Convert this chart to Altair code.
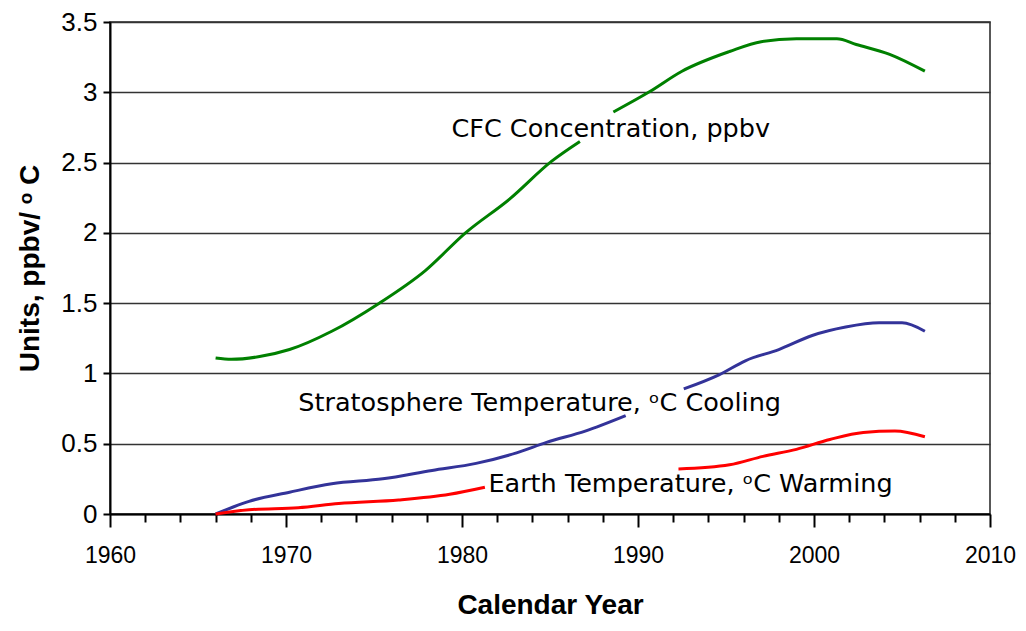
import altair as alt
import pandas as pd

# CFC concentration (ppbv); segment break where the label covers the line
cfc_years = [1966.0, 1966.9, 1968.5, 1970.2, 1972.6, 1975.3, 1977.9, 1980.2, 1982.7, 1985.1, 1986.7,
             1988.6, 1990.6, 1992.5, 1995.2, 1997.0, 1999.0, 2001.3, 2002.4, 2004.3, 2006.3]
cfc_values = [1.11, 1.10, 1.12, 1.17, 1.30, 1.50, 1.73, 2.00, 2.24, 2.51, 2.65,
              2.86, 3.00, 3.15, 3.29, 3.36, 3.38, 3.38, 3.34, 3.27, 3.15]
cfc_seg = [0] * 11 + [1] * 10

# Stratosphere temperature, cooling (degC)
strat_years = [1966.0, 1967.0, 1967.9, 1970.2, 1972.6, 1975.5, 1978.3, 1980.8, 1983.1, 1984.8, 1987.0, 1989.3,
               1992.6, 1994.6, 1996.1, 1998.0, 1999.9, 2001.8, 2003.7, 2005.0, 2006.3]
strat_values = [0.0, 0.05, 0.09, 0.155, 0.215, 0.25, 0.31, 0.36, 0.435, 0.51, 0.59, 0.70,
                0.89, 0.99, 1.09, 1.17, 1.27, 1.33, 1.36, 1.36, 1.30]
strat_seg = [0] * 12 + [1] * 9

# Earth temperature, warming (degC)
earth_years = [1966.0, 1967.9, 1970.7, 1973.0, 1976.4, 1979.3, 1981.3,
               1992.3, 1995.2, 1997.1, 1999.0, 2000.9, 2002.8, 2004.6, 2006.3]
earth_values = [0.0, 0.03, 0.045, 0.075, 0.10, 0.14, 0.19,
                0.32, 0.35, 0.41, 0.46, 0.53, 0.58, 0.59, 0.55]
earth_seg = [0] * 7 + [1] * 8

series_names = ["CFC", "Stratosphere", "Earth"]
series_colors = ["#008000", "#333399", "#ff0000"]

label_texts = ["CFC Concentration, ppbv",
               "Stratosphere Temperature, \u1d52C Cooling",
               "Earth Temperature, \u1d52C Warming"]
label_x = [1979.4, 1970.7, 1981.5]
label_y = [2.74, 0.79, 0.21]

y_ticks = [0, 0.5, 1, 1.5, 2, 2.5, 3, 3.5]
x_ticks = list(range(1960, 2011, 2))

rows = []
for name, yrs, vals, segs in [("CFC", cfc_years, cfc_values, cfc_seg),
                              ("Stratosphere", strat_years, strat_values, strat_seg),
                              ("Earth", earth_years, earth_values, earth_seg)]:
    for yr, v, s in zip(yrs, vals, segs):
        rows.append({"series": name, "year": yr, "value": v, "seg": f"{name}-{s}"})
df = pd.DataFrame(rows)

labels_df = pd.DataFrame({"text": label_texts, "year": label_x, "value": label_y})

x_scale = alt.Scale(domain=[1960, 2010], nice=False, zero=False)
y_scale = alt.Scale(domain=[0, 3.5], nice=False)

x_axis = alt.Axis(
    values=x_ticks,
    labelExpr="datum.value % 10 == 0 ? format(datum.value, 'd') : ''",
    labelOverlap=False,
    labelFlush=False,
    tickSize={"condition": {"test": "datum.value % 10 == 0", "value": 13}, "value": 8},
    tickWidth=2,
    tickColor="black",
    domainColor="black",
    domainWidth=2,
    grid=False,
    labelFontSize=23,
    labelPadding=17,
    title="Calendar Year",
    titleFontSize=28,
    titleFontWeight="bold",
    titlePadding=24,
)

y_axis = alt.Axis(
    values=y_ticks,
    format="~g",
    labelOverlap=False,
    grid=True,
    gridColor="#333333",
    gridWidth=1.5,
    tickSize=7,
    tickWidth=2,
    tickColor="black",
    domainColor="black",
    domainWidth=2,
    labelFontSize=26,
    labelPadding=6,
    title="Units, ppbv/ \u1d52 C",
    titleFontSize=28,
    titleFontWeight="bold",
    titlePadding=16,
)

lines = alt.Chart(df).mark_line(strokeWidth=3, interpolate="monotone").encode(
    x=alt.X("year:Q", scale=x_scale, axis=x_axis),
    y=alt.Y("value:Q", scale=y_scale, axis=y_axis),
    color=alt.Color("series:N", scale=alt.Scale(domain=series_names, range=series_colors), legend=None),
    detail="seg:N",
)

texts = alt.Chart(labels_df).mark_text(
    align="left", baseline="middle", fontSize=25.5, color="black", font="DejaVu Sans"
).encode(
    x=alt.X("year:Q", scale=x_scale, axis=x_axis),
    y=alt.Y("value:Q", scale=y_scale, axis=y_axis),
    text="text:N",
)

chart = alt.layer(lines, texts).properties(
    width=880,
    height=492,
    padding={"left": 102, "top": 14, "right": 28, "bottom": 104},
    autosize="none",
).configure(
    font="Liberation Sans",
).configure_axis(
    labelFont="Liberation Sans",
    titleFont="Liberation Sans",
    labelColor="black",
    titleColor="black",
).configure_view(
    stroke="#222222",
    strokeWidth=1.5,
)

chart.save("out.html", embed_options={"renderer": "svg", "actions": False})
